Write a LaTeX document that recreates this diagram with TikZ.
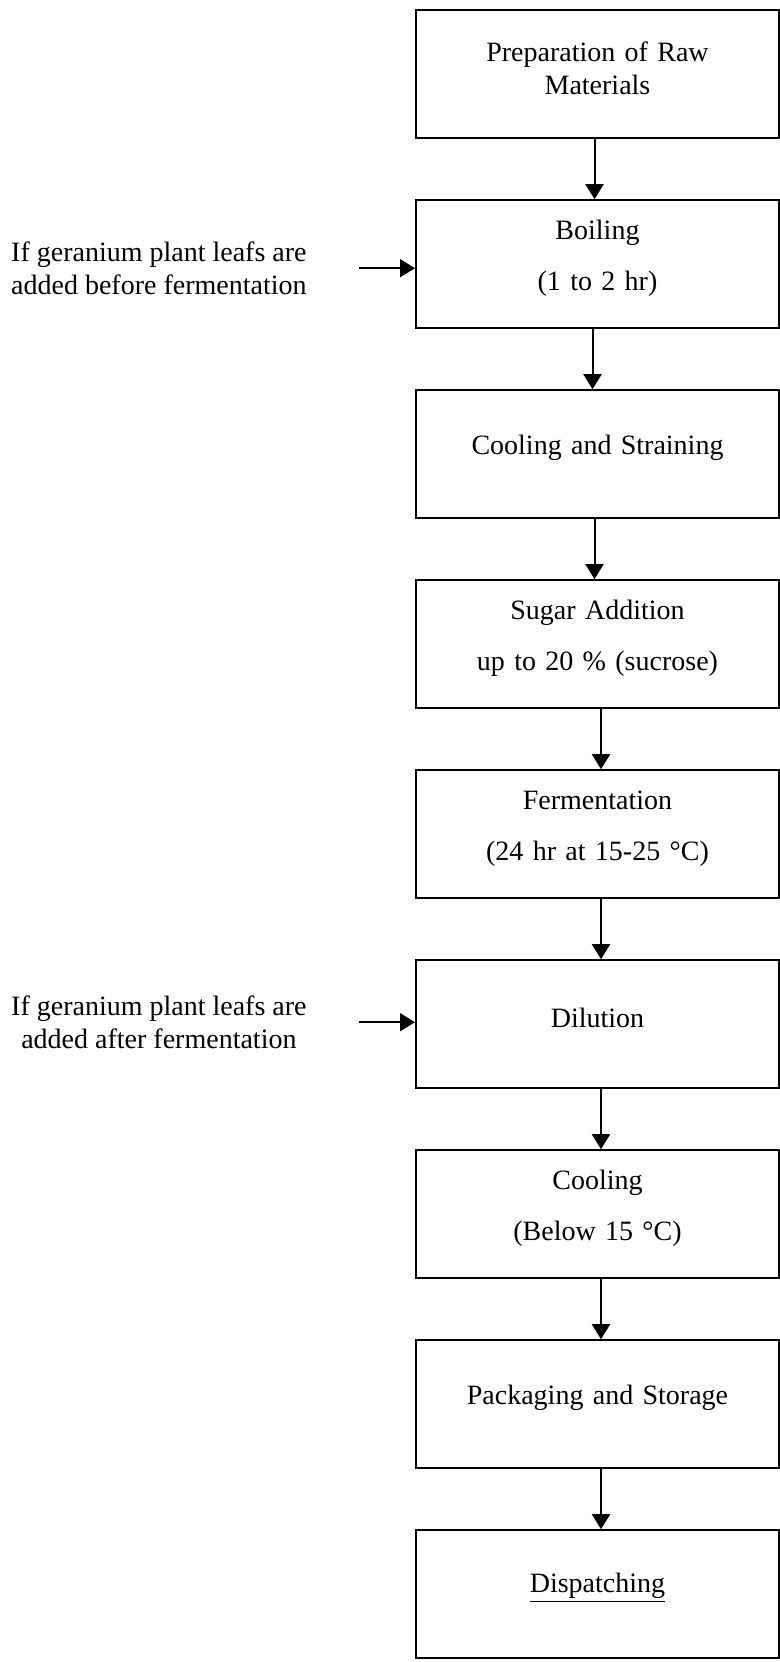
\documentclass[tikz,border=0pt]{standalone}
\usepackage{fontspec}
\setmainfont{Liberation Serif}
\usetikzlibrary{positioning,arrows.meta}

\begin{document}
\begin{tikzpicture}[
            node distance=30pt,
            every node/.style={align=center, font=\fontsize{14pt}{16.5pt}\selectfont},
            flow/.style={draw, line width=1pt, -{Triangle[length=7.5pt,width=9pt]}}
        ]

        % Define styles for nodes
        \tikzset{
            stepbox/.style={rectangle, draw=black, line width=1pt, minimum width=181.5pt, minimum height=64pt, text width=165pt, align=center, execute at end node={\par\kern6pt}},
            sidenote/.style={inner sep=0pt, align=center}
        }

        % Page frame
        \useasboundingbox (0,0) rectangle (390pt,-831pt);

        % Main chain of steps
        \node[stepbox] (prep) at (298.75pt,-37.1pt) {Preparation of Raw\\Materials};
        \node[stepbox, below=of prep] (boil) {Boiling\\[9pt](1 to 2 hr)};
        \node[stepbox, below=of boil] (cool) {Cooling and Straining};
        \node[stepbox, below=of cool] (sugar) {Sugar Addition\\[9pt]up to 20 \% (sucrose)};
        \node[stepbox, below=of sugar] (ferm) {Fermentation\\[9pt](24 hr at 15-25 °C)};
        \node[stepbox, below=of ferm] (dilute) {Dilution};
        \node[stepbox, below=of dilute] (chill) {Cooling\\[9pt](Below 15 °C)};
        \node[stepbox, below=of chill] (pack) {Packaging and Storage};
        \node[stepbox, below=of pack] (dispatch) {\underline{Dispatching}};

        % Side inputs of geranium leafs
        \coordinate[left=28pt of boil.west, yshift=-2pt] (leafBefore);
        \coordinate[left=28pt of dilute.west, yshift=1pt] (leafAfter);
        \node[sidenote, left=26pt of leafBefore] (noteBefore) {If geranium plant leafs are\\added before fermentation};
        \node[sidenote, left=26pt of leafAfter] (noteAfter) {If geranium plant leafs are\\added after fermentation};

        % Arrows between steps
        \draw[flow] ([xshift=-1.5pt]prep.south) -- ([xshift=-1.5pt]boil.north);
        \draw[flow] ([xshift=-2.5pt]boil.south) -- ([xshift=-2.5pt]cool.north);
        \draw[flow] ([xshift=-1.5pt]cool.south) -- ([xshift=-1.5pt]sugar.north);
        \draw[flow] ([xshift=1.75pt]sugar.south) -- ([xshift=1.75pt]ferm.north);
        \draw[flow] ([xshift=1.75pt]ferm.south) -- ([xshift=1.75pt]dilute.north);
        \draw[flow] ([xshift=1.75pt]dilute.south) -- ([xshift=1.75pt]chill.north);
        \draw[flow] ([xshift=1.75pt]chill.south) -- ([xshift=1.75pt]pack.north);
        \draw[flow] ([xshift=1.75pt]pack.south) -- ([xshift=1.75pt]dispatch.north);
        \draw[flow] (leafBefore) -- (leafBefore -| boil.west);
        \draw[flow] (leafAfter) -- (leafAfter -| dilute.west);

\end{tikzpicture}
\end{document}
